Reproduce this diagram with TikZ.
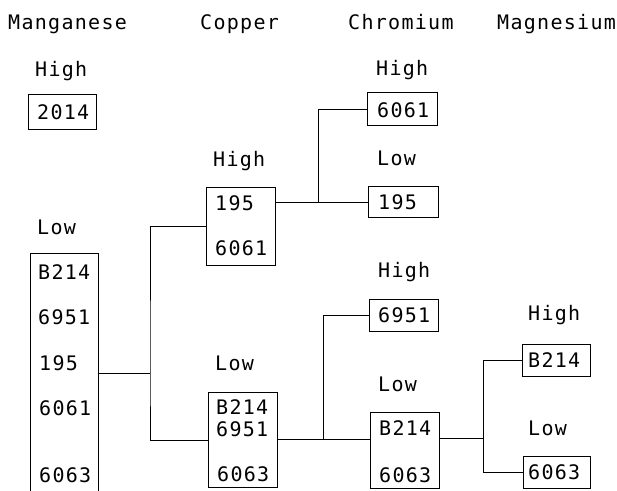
\documentclass[tikz,border=0pt]{standalone}
\usepackage{fontspec}
\newfontfamily\diafont{DejaVu Sans Mono}[LetterSpace=6.5]
\begin{document}
\begin{tikzpicture}[x=1pt,y=-1pt,
  txt/.style={font=\diafont\fontsize{20}{24}\selectfont, anchor=base west, inner sep=0pt},
  box/.style={draw, line width=0.8pt, anchor=north west, inner sep=0pt},
  conn/.style={line width=0.8pt}]
\useasboundingbox (0,0) rectangle (617,490);
% headers
\node[txt] (hMn) at (8,29) {Manganese};
\node[txt] (hCu) at (200,29) {Copper};
\node[txt] (hCr) at (348,29) {Chromium};
\node[txt] (hMg) at (497,29) {Magnesium};
% level labels
\node[txt] (lMnH) at (35,76) {High};
\node[txt] (lMnL) at (37,234) {Low};
\node[txt] (lCuH) at (213,166) {High};
\node[txt] (lCuL) at (215,370) {Low};
\node[txt] (lCrH1) at (376,75) {High};
\node[txt] (lCrL1) at (377,165) {Low};
\node[txt] (lCrH2) at (378,277) {High};
\node[txt] (lCrL2) at (378,391) {Low};
\node[txt] (lMgH) at (528,320) {High};
\node[txt] (lMgL) at (528,435) {Low};
% boxes
\node[box, minimum width=68pt, minimum height=35pt] (b2014) at (28,94) {};
\node[box, minimum width=68pt, minimum height=239pt] (mnLow) at (30,253) {};
\node[box, minimum width=69pt, minimum height=78pt] (cuHigh) at (206,187) {};
\node[box, minimum width=69pt, minimum height=95pt] (cuLow) at (208,392) {};
\node[box, minimum width=70pt, minimum height=33pt] (cr6061) at (367,92) {};
\node[box, minimum width=70pt, minimum height=31pt] (cr195) at (368,186) {};
\node[box, minimum width=69pt, minimum height=32pt] (cr6951) at (369,299) {};
\node[box, minimum width=69pt, minimum height=76pt] (crLow) at (370,412) {};
\node[box, minimum width=68pt, minimum height=32pt] (mgB214) at (522,344) {};
\node[box, minimum width=67pt, minimum height=32pt] (mg6063) at (523,456) {};
% box contents
\node[txt] (t2014) at (37,119) {2014};
\node[txt] (tMn1) at (38,279) {B214};
\node[txt] (tMn2) at (38,324) {6951};
\node[txt] (tMn3) at (39,370) {195};
\node[txt] (tMn4) at (39,415) {6061};
\node[txt] (tMn5) at (39,482) {6063};
\node[txt] (tCuH1) at (215,210) {195};
\node[txt] (tCuH2) at (215,255) {6061};
\node[txt] (tCuL1) at (216,414) {B214};
\node[txt] (tCuL2) at (216,436) {6951};
\node[txt] (tCuL3) at (217,481) {6063};
\node[txt] (tCr1) at (377,117) {6061};
\node[txt] (tCr2) at (378,209) {195};
\node[txt] (tCr3) at (378,322) {6951};
\node[txt] (tCrL1) at (379,435) {B214};
\node[txt] (tCrL2) at (379,482) {6063};
\node[txt] (tMg1) at (528,367) {B214};
\node[txt] (tMg2) at (528,479) {6063};
% junctions
\coordinate (j1) at (150,373);
\coordinate (j2) at (318,202);
\coordinate (j3) at (323,439);
\coordinate (j4) at (483,438);
% connectors
\draw[conn] (mnLow.east |- j1) -- (j1);
\draw[conn] (cuHigh.west) -| (j1) |- (cuLow.west);
\draw[conn] (cuHigh.east |- j2) -- (cr195.west |- j2);
\draw[conn] (cr6061.west) -| (j2);
\draw[conn] (cuLow.east |- j3) -- (crLow.west |- j3);
\draw[conn] (cr6951.west) -| (j3);
\draw[conn] (crLow.east |- j4) -- (j4);
\draw[conn] (mgB214.west) -| (j4) |- (mg6063.west);
\end{tikzpicture}
\end{document}
